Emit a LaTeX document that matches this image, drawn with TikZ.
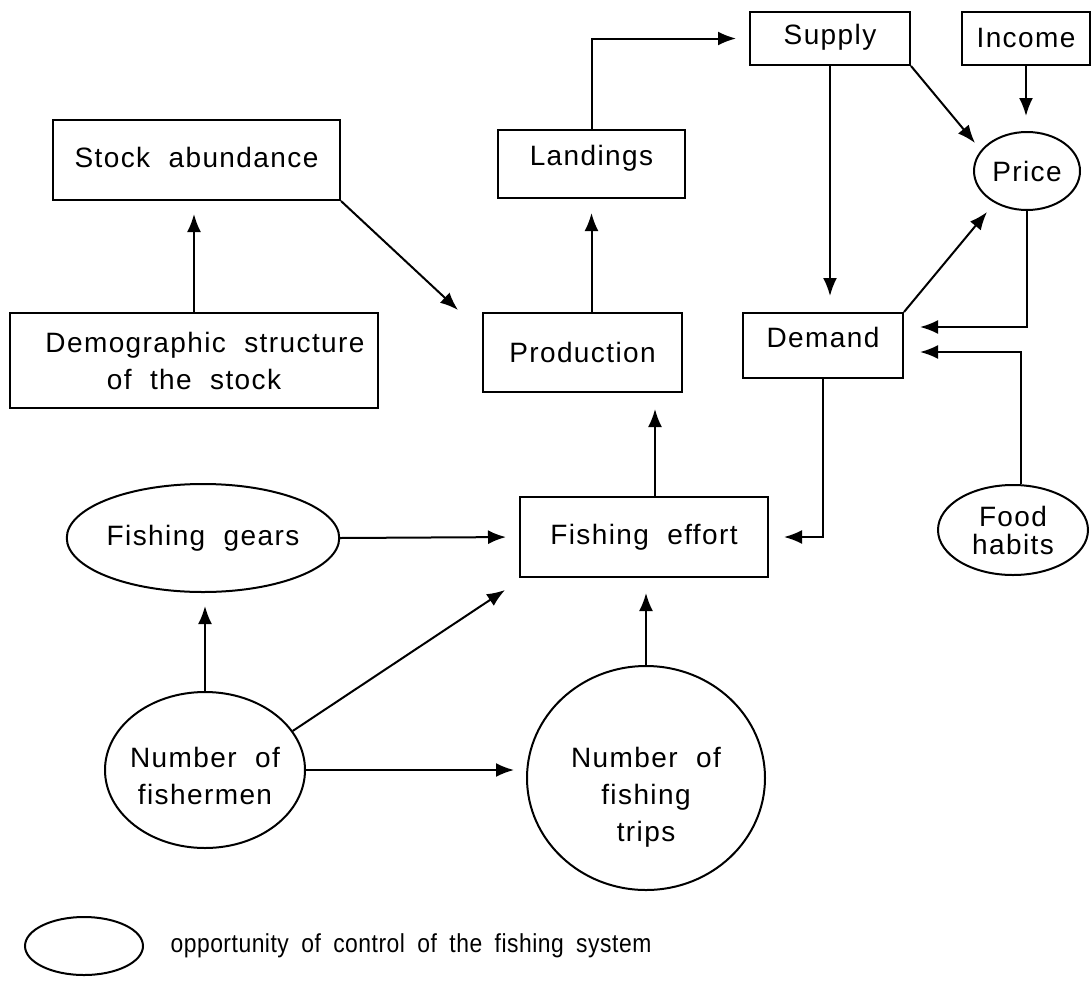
\documentclass[tikz,border=0pt]{standalone}
\usepackage{fontspec}
\setmainfont[LetterSpace=5,WordSpace=2]{Liberation Sans}
\newfontfamily\legfont[LetterSpace=2,WordSpace=1.8,FakeStretch=0.88]{Liberation Sans}
\usetikzlibrary{arrows.meta,shapes.geometric,calc}
\newcommand{\up}[2]{\raisebox{#1}[\height][\depth]{#2}}
\begin{document}
\begin{tikzpicture}[x=1pt,y=-1pt,
  every node/.style={font=\fontsize{28}{37}\selectfont},
  box/.style={draw,line width=2pt,rectangle,inner sep=0pt,align=center},
  oval/.style={draw,line width=2pt,ellipse,inner sep=0pt,align=center},
  conn/.style={line width=2pt,-{Latex[length=18pt,width=14pt]}},
]
\useasboundingbox[fill=white] (0,0) rectangle (1092,980);

% boxes
\node[box,minimum width=160pt,minimum height=53pt] (supply) at (830,38.5) {\up{1pt}{Supply}};
\node[box,minimum width=128pt,minimum height=53pt] (income) at (1026,38.5) {Income};
\node[oval,minimum width=106pt,minimum height=78pt] (price) at (1027,171) {Price};
\node[box,minimum width=287pt,minimum height=80pt] (stock) at (196.5,160) {\up{3pt}{Stock abundance}};
\node[box,minimum width=368pt,minimum height=95pt] (demo) at (194,360.5) {\hspace*{22pt}Demographic structure\\of the stock};
\node[box,minimum width=187pt,minimum height=68pt] (landings) at (591.5,164) {\up{6pt}{Landings}};
\node[box,minimum width=199pt,minimum height=79pt] (production) at (582.5,352.5) {Production};
\node[box,minimum width=160pt,minimum height=65pt] (demand) at (823,345.5) {\up{8pt}{Demand}};
\node[box,minimum width=248pt,minimum height=80pt] (effort) at (644,537) {Fishing effort};
\node[oval,minimum width=150pt,minimum height=90pt,font=\fontsize{28}{28}\selectfont] (food) at (1013,530) {Food\\habits};
\node[oval,minimum width=264pt,minimum height=108pt] (gears) at (203,538) {Fishing gears};
\node[oval,minimum width=200pt,minimum height=156pt] (fishermen) at (205,770) {};
\node[align=center] (fishtext) at (205,776) {Number of\\fishermen};
\node[oval,minimum width=238pt,minimum height=224pt] (trips) at (646,778) {};
\node[align=center] (tripstext) at (646,797) {Number of\\fishing\\trips};

% legend
\node[oval,minimum width=118pt,minimum height=58pt] (leg) at (84,946) {};
\node[anchor=west,font=\legfont\fontsize{26}{30}\selectfont] (legtext) at (167,946) {opportunity of control of the fishing system};

% free ends
\coordinate (t1) at (458,310);
\coordinate (t2) at (505,590);
\coordinate (t3) at (975,143);
\coordinate (t4) at (987,212);
\coordinate (t5) at (920,327);
\coordinate (t6) at (920,352);
\coordinate (e1) at ($(effort.north)+(11,0)$);

% connectors
\draw[conn,shorten >=13pt] (demo.north) -- (demo.north |- stock.south);
\draw[conn] (stock.south east) -- (t1);
\draw[conn,shorten >=14pt] (landings.south |- production.north) -- (landings.south);
\draw[conn,shorten >=13pt] (landings.north) |- (supply.west);
\draw[conn,shorten >=16pt] (e1) -- (e1 |- production.south);
\draw[conn,shorten >=13pt] (gears.east) -- (effort.west);
\draw[conn,shorten >=13pt] (fishermen.north) -- (fishermen.north |- gears.south);
\draw[conn] (fishermen.24) -- (t2);
\draw[conn,shorten >=12pt] (fishermen.east) -- (fishermen.east -| trips.west);
\draw[conn,shorten >=15pt] (trips.north) -- (trips.north |- effort.south);
\draw[conn,shorten >=15pt] (demand.south) |- (effort.east);
\draw[conn,shorten >=16pt] (supply.south) -- (supply.south |- demand.north);
\draw[conn] (supply.south east) -- (t3);
\draw[conn,shorten >=15pt] (income.south) -- (income.south |- price.north);
\draw[conn] (demand.north east) -- (t4);
\draw[conn] (price.south) |- (t5);
\draw[conn] (food.80) |- (t6);
\end{tikzpicture}
\end{document}
